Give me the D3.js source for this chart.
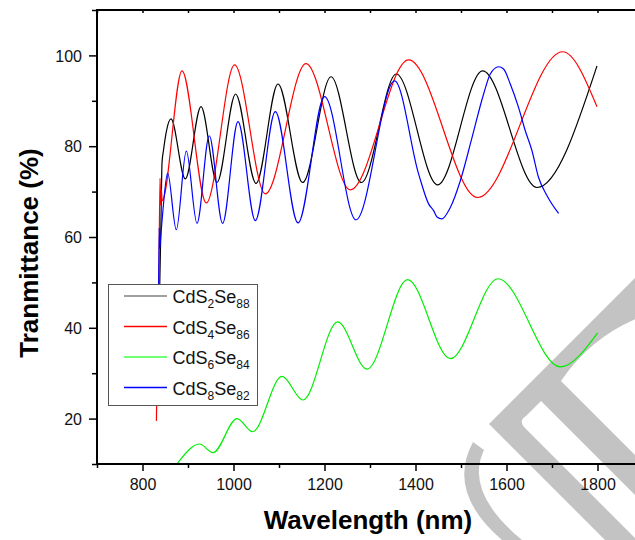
<!DOCTYPE html>
<html><head><meta charset="utf-8">
<script src="https://cdn.jsdelivr.net/npm/d3@7/dist/d3.min.js"></script>
<style>html,body{margin:0;padding:0;background:#fff;}svg{display:block;}</style>
</head><body>
<script>
// ---------- data ----------
const xMajorTicks = [800, 1000, 1200, 1400, 1600, 1800];
const xMinorTicks = [700, 900, 1100, 1300, 1500, 1700, 1900];
const yMajorTicks = [20, 40, 60, 80, 100];
const yMinorTicks = [10, 30, 50, 70, 90, 110];

const seriesNames = [["CdS","2","Se","88"],["CdS","4","Se","86"],["CdS","6","Se","84"],["CdS","8","Se","82"]];
const seriesColors = ["#000000", "#ff0000", "#00ee00", "#0000ff"];
const legendColors = ["#808080", "#ff0000", "#44ff44", "#0000ff"];

const cds2se88 = [[837,45],[840,60],[843,76.5],[846,79],[852,83],[862.6,86],[894,72.8],[928.6,88.7],[963.7,72.0],[1004.6,91.5],[1049.5,71.8],[1097.8,93.7],[1151.9,72.0],[1214.3,95.3],[1280.9,72.0],[1357.8,95.9],[1448.6,71.5],[1547.5,96.6],[1667,70.9],[1798.9,97.7]];
const cds4se86 = [[830.5,19.5],[836,50],[838.5,73],[840,67],[841.5,70.5],[843,68],[886.8,96.6],[940.2,67.5],[1002.4,97.9],[1069.9,69.5],[1159.3,98.2],[1256.7,70.4],[1384.8,99.0],[1536.5,68.7],[1723.3,100.8],[1798.9,88.7]];
const cds6se84 = [[875.8,10],[885,11.2],[925.5,14.4],[954.9,12.5],[1007.7,20.0],[1042,17.1],[1106.6,29.3],[1152.7,24.1],[1228.8,41.3],[1293.4,30.9],[1382.6,50.6],[1476.5,33.2],[1581.3,50.8],[1718.2,31.4],[1800.2,38.9]];
const cds8se82 = [[835,40],[836.5,62],[838,57.5],[840,60],[845,66],[855.2,74.1],[874.3,61.6],[896.3,78.9],[919.8,63.0],[946.8,82.3],[976,63.0],[1009.9,85.4],[1047.9,63.6],[1091.9,87.6],[1141.8,63.1],[1200.2,90.9],[1269.2,63.8],[1354.1,94.4],[1406.8,73.9],[1428.8,67.3],[1439.8,65.8],[1447.2,64.4],[1458,64.0],[1476.5,66.5],[1498.5,72.4],[1524.2,81.9],[1549.7,91.5],[1564.4,95.9],[1582.7,97.5],[1593.6,97.0],[1608.3,93.7],[1626.6,88.5],[1641.3,83.4],[1656,79.0],[1670.5,73.1],[1689,69.1],[1714.5,65.2]];
const allSeries = [cds2se88, cds4se86, cds6se84, cds8se82];

// ---------- layout ----------
const W = 635, H = 540;
const plotL = 97, plotR = 643, plotT = 10, plotB = 464;
const FONT = "Arial, 'Liberation Sans', Helvetica, sans-serif";

const svg = d3.select("body").append("svg").attr("width", W).attr("height", H);

const x = d3.scaleLinear().domain([700, 1900]).range([plotL, plotR]);
const y = d3.scaleLinear().domain([10, 110]).range([plotB, plotT]);

// watermark (behind everything)
const wm = svg.append("g").attr("fill", "#c3c3c3");
wm.append("path").attr("d",
  "M720,193 L489,424 L625,560 L657,560 L525,428 Q518,421 526,416 L541,401 L680,540 L720,540 L561,381 Q590,338 638,318 L720,236 Z");
wm.append("path").attr("d", "M473,442 L484,450 Q464,492 522,540 L502,540 Q446,492 473,442 Z");

// clip
svg.append("defs").append("clipPath").attr("id", "clip")
  .append("rect").attr("x", plotL).attr("y", plotT).attr("width", plotR - plotL).attr("height", plotB - plotT);

const line = d3.line().x(d => x(d[0])).y(d => y(d[1])).curve(d3.curveMonotoneX);
const curves = svg.append("g").attr("clip-path", "url(#clip)");
allSeries.forEach((s, i) => {
  curves.append("path").datum(s).attr("d", line)
    .attr("fill", "none").attr("stroke", seriesColors[i]).attr("stroke-width", 1.2);
});

// axes
const bottomAxis = svg.append("g").attr("transform", `translate(0,${plotB})`)
  .call(d3.axisBottom(x).tickValues(xMajorTicks).tickSize(7).tickPadding(8).tickFormat(d3.format("d")));
const bottomMinor = svg.append("g").attr("transform", `translate(0,${plotB})`)
  .call(d3.axisBottom(x).tickValues(xMinorTicks).tickSize(4).tickFormat(""));
const leftAxis = svg.append("g").attr("transform", `translate(${plotL},0)`)
  .call(d3.axisLeft(y).tickValues(yMajorTicks).tickSize(8).tickPadding(7).tickFormat(d3.format("d")));
const leftMinor = svg.append("g").attr("transform", `translate(${plotL},0)`)
  .call(d3.axisLeft(y).tickValues(yMinorTicks).tickSize(5).tickFormat(""));
const topAxis = svg.append("g").attr("transform", `translate(0,${plotT})`)
  .call(d3.axisTop(x).tickValues(xMajorTicks.concat(xMinorTicks)).tickSize(-3).tickFormat(""));

[bottomAxis, bottomMinor, leftAxis, leftMinor, topAxis].forEach(g => {
  g.select(".domain").remove();
  g.selectAll(".tick line").attr("stroke", "#000").attr("stroke-width", 1.5);
  g.selectAll("text").attr("font-family", FONT).attr("font-size", 16).attr("fill", "#111");
});
leftAxis.selectAll("text").attr("dy", "0.36em");

// frame lines
svg.append("line").attr("x1", plotL).attr("x2", plotL).attr("y1", plotT - 1).attr("y2", plotB + 1).attr("stroke", "#000").attr("stroke-width", 2);
svg.append("line").attr("x1", plotL - 1).attr("x2", W + 5).attr("y1", plotB).attr("y2", plotB).attr("stroke", "#000").attr("stroke-width", 2);
svg.append("line").attr("x1", plotL - 1).attr("x2", W + 5).attr("y1", plotT).attr("y2", plotT).attr("stroke", "#000").attr("stroke-width", 2);

// axis titles
svg.append("text").attr("x", 368).attr("y", 529).attr("text-anchor", "middle")
  .attr("font-family", FONT).attr("font-weight", "bold").attr("font-size", 26).text("Wavelength (nm)");
svg.append("text").attr("transform", "translate(38,253) rotate(-90)").attr("text-anchor", "middle")
  .attr("font-family", FONT).attr("font-weight", "bold").attr("font-size", 26).text("Tranmittance (%)");

// legend
const lg = svg.append("g");
lg.append("rect").attr("x", 108.5).attr("y", 284.5).attr("width", 149).attr("height", 121)
  .attr("fill", "#fff").attr("stroke", "#555").attr("stroke-width", 1);
seriesNames.forEach((nm, i) => {
  const ry = 296 + i * 30.5;
  lg.append("line").attr("x1", 124).attr("x2", 167).attr("y1", ry).attr("y2", ry)
    .attr("stroke", legendColors[i]).attr("stroke-width", i === 2 ? 1.6 : 1.3);
  const t = lg.append("text").attr("x", 172.5).attr("y", ry + 7)
    .attr("font-family", FONT).attr("font-size", 18).attr("fill", "#111");
  t.append("tspan").text(nm[0]);
  t.append("tspan").attr("font-size", 12).attr("dy", 5).text(nm[1]);
  t.append("tspan").attr("dy", -5).text(nm[2]);
  t.append("tspan").attr("font-size", 12).attr("dy", 5).text(nm[3]);
});
</script>
</body></html>
